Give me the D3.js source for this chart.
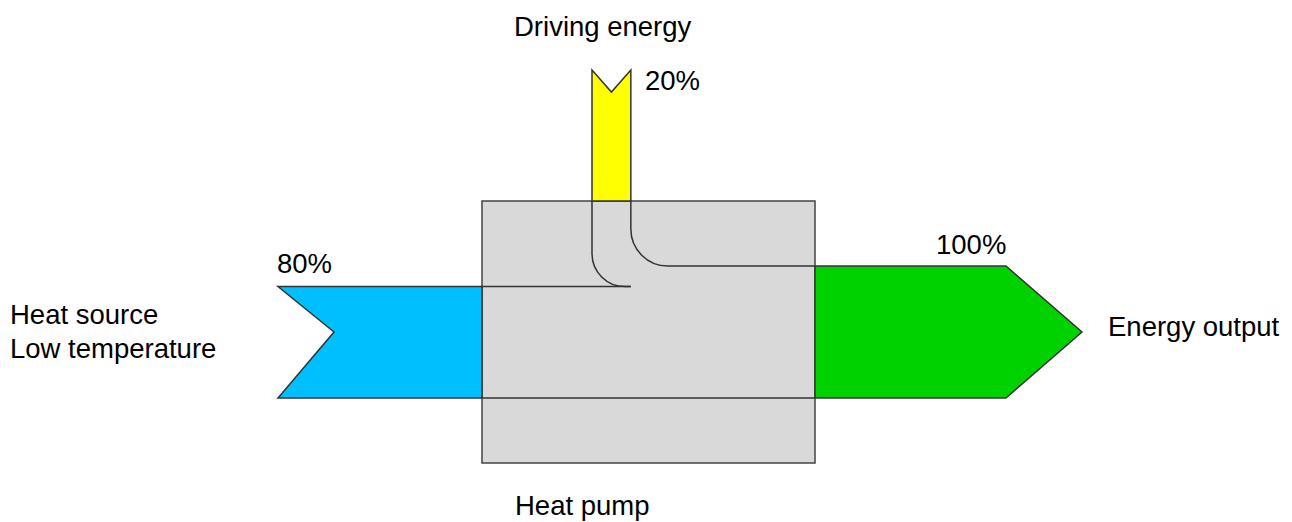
<!DOCTYPE html>
<html>
<head>
<meta charset="utf-8">
<script src="https://cdn.jsdelivr.net/npm/d3@7"></script>
<style>
  body { margin: 0; background: #fff; }
  text { font-family: "Liberation Sans", Arial, sans-serif; font-size: 27.5px; fill: #000; }
</style>
</head>
<body>
<div id="chart"></div>
<script>
// Energy flows of a heat pump (percent of output)
const flowNames = ["Heat source", "Driving energy", "Energy output"];
const flowValues = [80, 20, 100];
const valueLabels = ["80%", "20%", "100%"];
const boxLabel = "Heat pump";

const W = 1292, H = 522;

const svg = d3.select("#chart").append("svg")
  .attr("width", W)
  .attr("height", H);

// flow thickness scale
const w = d3.scalePow().exponent(0.76)
  .domain([0, 100])
  .range([0, 132]);

const [srcV, drvV, outV] = flowValues;

// layout
const box = {x0: 482, x1: 815, y0: 201, y1: 463};
const baseY = 398;
const outTop = baseY - w(outV);
const srcTop = baseY - w(srcV);
const midY = baseY - w(outV) / 2;
const drvX0 = 592, drvX1 = drvX0 + w(drvV);
const drvTop = 70;
const srcX = 278, outShoulder = 1006, outTip = 1082;

const stroke = "#333";

// heat pump box
svg.append("rect")
  .attr("x", box.x0).attr("y", box.y0)
  .attr("width", box.x1 - box.x0).attr("height", box.y1 - box.y0)
  .attr("fill", "#d9d9d9")
  .attr("stroke", "#444")
  .attr("stroke-width", 1.5);

// heat source arrow (blue)
svg.append("path")
  .attr("d", d3.line()([
    [srcX, srcTop], [box.x0, srcTop], [box.x0, baseY], [srcX, baseY],
    [srcX + 56, midY], [srcX, srcTop]
  ]) + "Z")
  .attr("fill", "#00bfff")
  .attr("stroke", stroke)
  .attr("stroke-width", 1.5);

// driving energy arrow (yellow)
svg.append("path")
  .attr("d", d3.line()([
    [drvX0, drvTop], [(drvX0 + drvX1) / 2, drvTop + 22], [drvX1, drvTop],
    [drvX1, box.y0], [drvX0, box.y0]
  ]) + "Z")
  .attr("fill", "#ffff00")
  .attr("stroke", stroke)
  .attr("stroke-width", 1.5);

// energy output arrow (green)
svg.append("path")
  .attr("d", d3.line()([
    [box.x1, outTop], [outShoulder, outTop], [outTip, midY],
    [outShoulder, baseY], [box.x1, baseY]
  ]) + "Z")
  .attr("fill", "#00d200")
  .attr("stroke", stroke)
  .attr("stroke-width", 1.5);

// flow lines inside the box
const r1 = 33, r2 = 37;
const p1 = d3.path();
p1.moveTo(drvX0, box.y0);
p1.arcTo(drvX0, srcTop, drvX0 + r1, srcTop, r1);
p1.lineTo(drvX1, srcTop);

const p2 = d3.path();
p2.moveTo(drvX1, box.y0);
p2.arcTo(drvX1, outTop, drvX1 + r2, outTop, r2);
p2.lineTo(box.x1, outTop);

const p3 = d3.path();
p3.moveTo(box.x0, srcTop);
p3.lineTo(drvX1, srcTop);
p3.moveTo(box.x0, baseY);
p3.lineTo(box.x1, baseY);

svg.selectAll("path.inner")
  .data([p1, p2, p3])
  .join("path")
  .attr("class", "inner")
  .attr("d", d => d.toString())
  .attr("fill", "none")
  .attr("stroke", stroke)
  .attr("stroke-width", 1.5);

// labels
const labels = [
  {t: flowNames[1], x: 514, y: 36},
  {t: valueLabels[1], x: 645, y: 90},
  {t: valueLabels[0], x: 277, y: 273},
  {t: valueLabels[2], x: 936, y: 254},
  {t: flowNames[0], x: 10, y: 324},
  {t: "Low temperature", x: 10, y: 358},
  {t: flowNames[2], x: 1108, y: 336},
  {t: boxLabel, x: 515, y: 515}
];

svg.selectAll("text.lbl")
  .data(labels)
  .join("text")
  .attr("class", "lbl")
  .attr("x", d => d.x)
  .attr("y", d => d.y)
  .text(d => d.t);
</script>
</body>
</html>
